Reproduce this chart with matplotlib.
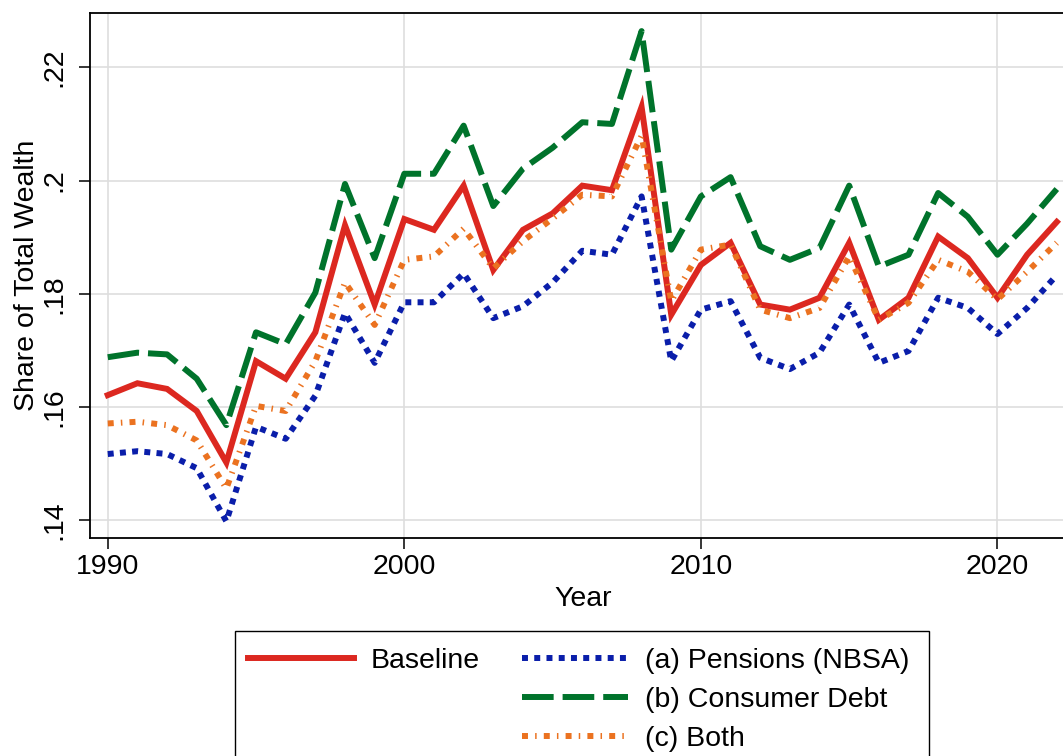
import matplotlib
matplotlib.use("Agg")
import matplotlib.pyplot as plt
from matplotlib.lines import Line2D
from matplotlib.patches import Rectangle
from matplotlib.ticker import FuncFormatter

plt.rcParams["font.family"] = ["Liberation Sans", "DejaVu Sans"]

years = list(range(1990, 2023))

baseline = [0.1621, 0.1642, 0.1632, 0.1593, 0.1502, 0.1681, 0.1650, 0.1732, 0.1921, 0.1781,
            0.1932, 0.1913, 0.1991, 0.1842, 0.1913, 0.1942, 0.1991, 0.1983, 0.2130, 0.1763,
            0.1851, 0.1890, 0.1781, 0.1772, 0.1793, 0.1890, 0.1754, 0.1793, 0.1901, 0.1863,
            0.1793, 0.1869, 0.1927]

pensions = [0.1517, 0.1522, 0.1517, 0.1492, 0.1398, 0.1565, 0.1544, 0.1620, 0.1766, 0.1678,
            0.1785, 0.1785, 0.1836, 0.1757, 0.1778, 0.1820, 0.1876, 0.1869, 0.1972, 0.1681,
            0.1772, 0.1787, 0.1687, 0.1667, 0.1696, 0.1781, 0.1678, 0.1699, 0.1793, 0.1775,
            0.1729, 0.1775, 0.1833]

consumer_debt = [0.1688, 0.1696, 0.1693, 0.1650, 0.1568, 0.1732, 0.1711, 0.1802, 0.1994, 0.1863,
                 0.2012, 0.2012, 0.2097, 0.1955, 0.2021, 0.2058, 0.2103, 0.2100, 0.2264, 0.1878,
                 0.1972, 0.2006, 0.1884, 0.1860, 0.1881, 0.1991, 0.1848, 0.1869, 0.1978, 0.1936,
                 0.1869, 0.1924, 0.1985]

both = [0.1571, 0.1574, 0.1568, 0.1541, 0.1456, 0.1602, 0.1593, 0.1681, 0.1820, 0.1745,
        0.1860, 0.1866, 0.1915, 0.1845, 0.1893, 0.1933, 0.1975, 0.1972, 0.2079, 0.1787,
        0.1878, 0.1887, 0.1772, 0.1757, 0.1775, 0.1866, 0.1754, 0.1784, 0.1860, 0.1839,
        0.1790, 0.1839, 0.1890]

labels = ["Baseline", "(a) Pensions (NBSA)", "(b) Consumer Debt", "(c) Both"]
yticks = [0.14, 0.16, 0.18, 0.20, 0.22]
xticks = [1990, 2000, 2010, 2020]

fs = 20.5
W, H = 1063, 756
fig = plt.figure(figsize=(W / 100, H / 100), dpi=100)
# plot region runs a little past the right edge of the canvas
ax = fig.add_axes([0.0847, 0.288, 0.9276, 0.6944])

lw = 4.3
l0, = ax.plot(years, baseline, color="#DC2820", lw=lw, solid_joinstyle="miter")
l1, = ax.plot(years, pensions, color="#0A1EAA", lw=lw, linestyle=(0, (1, 1.05)),
              dash_capstyle="butt")
l2, = ax.plot(years, consumer_debt, color="#00732B", lw=lw, linestyle=(0, (5.3, 1.5)),
              dash_capstyle="butt")
l3, = ax.plot(years, both, color="#EB7220", lw=lw, linestyle=(0, (1, 1.2, 0.25, 1.2)),
              dash_capstyle="butt")

ax.set_xlim(1989.403, 2022.65)
ax.set_ylim(0.13682, 0.22954)
ax.set_xticks(xticks)
ax.set_yticks(yticks)
ax.yaxis.set_major_formatter(FuncFormatter(lambda v, p: f"{v:g}".lstrip("0")))
ax.grid(True, color="#DEDEDE", lw=1.2)
ax.set_axisbelow(True)

for side in ["left", "bottom", "top"]:
    ax.spines[side].set_linewidth(1.3)
    ax.spines[side].set_color("black")
ax.spines["right"].set_visible(False)

ax.tick_params(axis="both", direction="out", length=8, width=1.1, labelsize=fs, colors="black")
ax.tick_params(axis="y", pad=8)
ax.tick_params(axis="x", pad=3.5)
plt.setp(ax.get_yticklabels(), rotation=90, va="center")

ax.set_xlabel("Year", fontsize=fs, labelpad=4)
ax.set_ylabel("Share of Total Wealth", fontsize=fs, labelpad=1)

# legend: Baseline alone in the first column, the three variants in the second
blank = Line2D([], [], color="none")
fig.legend([l0, blank, blank, l1, l2, l3], [labels[0], "", "", labels[1], labels[2], labels[3]],
           ncol=2, loc="upper left", bbox_to_anchor=(235.7 / W, 1 - 635 / H),
           borderaxespad=0, fontsize=fs, frameon=False, handlelength=3.72,
           handletextpad=0.58, columnspacing=1.49, labelspacing=0.46, borderpad=0.44)
fig.patches.append(Rectangle((234.7 / W, -0.01), (929 - 234.7) / W, 1 - 631 / H + 0.01,
                             transform=fig.transFigure, fill=False, edgecolor="black", lw=1.0))

fig.savefig("out.png", dpi=100)
